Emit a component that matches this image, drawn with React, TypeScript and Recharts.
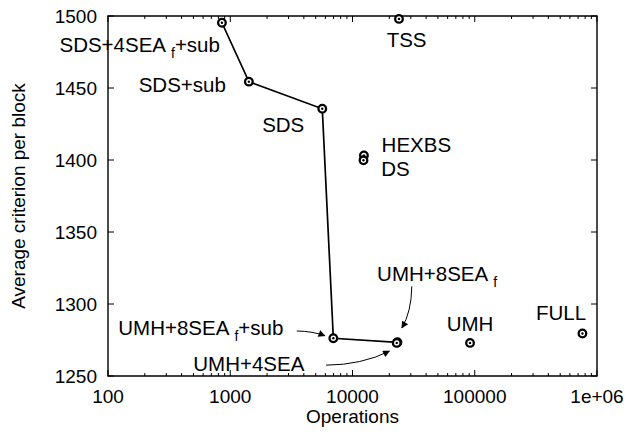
import { ScatterChart, Scatter, XAxis, YAxis, ReferenceArea } from 'recharts';

// operations vs average criterion
const lineNames = ['SDS+4SEA_f+sub', 'SDS+sub', 'SDS', 'UMH+8SEA_f+sub', 'UMH+8SEA_f'];
const lineOps = [855, 1420, 5660, 6970, 23300];
const lineCrit = [1495.3, 1454.4, 1435.6, 1276.2, 1273.4];

const otherNames = ['TSS', 'HEXBS', 'DS', 'UMH+4SEA', 'UMH', 'FULL'];
const otherOps = [24000, 12400, 12300, 23000, 91500, 760000];
const otherCrit = [1498, 1403.2, 1399.8, 1273, 1273, 1279.5];

const xMajor = [100, 1000, 10000, 100000, 1000000];
const xTicks = [100, 200, 300, 400, 500, 600, 700, 800, 900,
  1000, 2000, 3000, 4000, 5000, 6000, 7000, 8000, 9000,
  10000, 20000, 30000, 40000, 50000, 60000, 70000, 80000, 90000,
  100000, 200000, 300000, 400000, 500000, 600000, 700000, 800000, 900000, 1000000];
const yTicks = [1250, 1300, 1350, 1400, 1450, 1500];

const PLOT_W = 489;
const PLOT_H = 360;
const FONT = '"Liberation Sans", Arial, Helvetica, sans-serif';

const lineData = lineNames.map((name, i) => ({ name, ops: lineOps[i], crit: lineCrit[i] }));
const otherData = otherNames.map((name, i) => ({ name, ops: otherOps[i], crit: otherCrit[i] }));

// label offsets (px from the point) and optional curved arrow [sx, sy, cx, cy, ex, ey]
type Place = { dx: number; dy: number; anchor: 'start' | 'middle' | 'end'; arrow?: number[] };
const placement: Record<string, Place> = {
  'SDS+4SEA_f+sub': { dx: -2, dy: 29, anchor: 'end' },
  'SDS+sub': { dx: -23, dy: 10.6, anchor: 'end' },
  SDS: { dx: -18, dy: 23.6, anchor: 'end' },
  'UMH+8SEA_f+sub': { dx: -50, dy: -3.3, anchor: 'end', arrow: [-36.6, -7.3, -20, -7, -8.5, -2.5] },
  'UMH+8SEA_f': { dx: -20.3, dy: -61.7, anchor: 'start', arrow: [14.4, -56, 14, -30, 4.4, -14.4] },
  TSS: { dx: -12.3, dy: 27.7, anchor: 'start' },
  HEXBS: { dx: 17.7, dy: -3.6, anchor: 'start' },
  DS: { dx: 17.7, dy: 15.7, anchor: 'start' },
  'UMH+4SEA': { dx: -92.3, dy: 28, anchor: 'end', arrow: [-70.6, 22.3, -35, 22, -7.3, 8.3] },
  UMH: { dx: -23.3, dy: -12, anchor: 'start' },
  FULL: { dx: 3.7, dy: -13.7, anchor: 'end' },
};

const fmtX = (v: number) => (v === 1000000 ? '1e+06' : String(v));

const XTick = (props: any) => {
  const { x, y, payload } = props;
  const v = payload.value;
  const major = xMajor.includes(v);
  const len = major ? 6 : 3;
  return (
    <g>
      <line x1={x} y1={y} x2={x} y2={y - len} stroke="#000" strokeWidth={1} />
      <line x1={x} y1={y - PLOT_H} x2={x} y2={y - PLOT_H + len} stroke="#000" strokeWidth={1} />
      {major && (
        <text x={x} y={y + 27} textAnchor="middle" fontSize={19} fontFamily={FONT} fill="#000">
          {fmtX(v)}
        </text>
      )}
    </g>
  );
};

const YTick = (props: any) => {
  const { x, y, payload } = props;
  return (
    <g>
      <line x1={x} y1={y} x2={x + 6} y2={y} stroke="#000" strokeWidth={1} />
      <line x1={x + PLOT_W - 6} y1={y} x2={x + PLOT_W} y2={y} stroke="#000" strokeWidth={1} />
      <text x={x - 11} y={y + 7} textAnchor="end" fontSize={19} fontFamily={FONT} fill="#000">
        {payload.value}
      </text>
    </g>
  );
};

const LabelText = ({ name, x, y, anchor }: { name: string; x: number; y: number; anchor: string }) => {
  const parts = name.split('_f');
  return (
    <text x={x} y={y} textAnchor={anchor as any} fontSize={20.5} fontFamily={FONT} fill="#000">
      {parts[0]}
      {parts.length > 1 && (
        <>
          <tspan dx={5} dy={6} fontSize={14} fill="#000">f</tspan>
          {parts[1] ? <tspan dy={-6} fill="#000">{parts[1]}</tspan> : null}
        </>
      )}
    </text>
  );
};

const Point = (props: any) => {
  const { cx, cy, payload } = props;
  if (cx == null || cy == null) return <g />;
  const p = placement[payload.name];
  const a = p?.arrow;
  return (
    <g>
      {a && (
        <path
          d={`M${cx + a[0]},${cy + a[1]} Q${cx + a[2]},${cy + a[3]} ${cx + a[4]},${cy + a[5]}`}
          fill="none"
          stroke="#000"
          strokeWidth={1}
          markerEnd="url(#arrowHead)"
        />
      )}
      <circle cx={cx} cy={cy} r={3.8} fill="#fff" stroke="#000" strokeWidth={2.3} />
      <circle cx={cx} cy={cy} r={1.2} fill="#000" />
      {p && <LabelText name={payload.name} x={cx + p.dx} y={cy + p.dy} anchor={p.anchor} />}
    </g>
  );
};

const XTitle = (props: any) => {
  const { viewBox } = props;
  return (
    <text x={viewBox.x + viewBox.width / 2} y={viewBox.y + 47} textAnchor="middle" fontSize={19} fontFamily={FONT} fill="#000">
      Operations
    </text>
  );
};

const YTitle = (props: any) => {
  const { viewBox } = props;
  const cy = viewBox.y + viewBox.height / 2;
  return (
    <text x={25} y={cy} transform={`rotate(-90 25 ${cy})`} textAnchor="middle" fontSize={19} fontFamily={FONT} fill="#000">
      Average criterion per block
    </text>
  );
};

export default function App() {
  return (
    <div style={{ position: 'absolute', left: 0, top: 0, background: '#fff' }}>
      <svg width={0} height={0} style={{ position: 'absolute' }}>
        <defs>
          <marker id="arrowHead" viewBox="0 0 10 10" refX="9" refY="5" markerWidth="9" markerHeight="7" markerUnits="userSpaceOnUse" orient="auto">
            <path d="M0,0 L10,5 L0,10 z" fill="#000" />
          </marker>
        </defs>
      </svg>
      <ScatterChart width={629} height={434} margin={{ top: 16, right: 32, bottom: 8, left: 8 }}>
        <XAxis
          dataKey="ops"
          type="number"
          scale="log"
          domain={[100, 1000000]}
          ticks={xTicks}
          interval={0}
          tickSize={0}
          tickMargin={0}
          tick={<XTick />}
          axisLine={false}
          tickLine={false}
          height={50}
          label={<XTitle />}
        />
        <YAxis
          dataKey="crit"
          type="number"
          domain={[1250, 1500]}
          ticks={yTicks}
          interval={0}
          tickSize={0}
          tickMargin={0}
          tick={<YTick />}
          axisLine={false}
          tickLine={false}
          width={100}
          label={<YTitle />}
        />
        <ReferenceArea x1={100} x2={1000000} y1={1250} y2={1500} fill="none" stroke="#000" strokeWidth={1.4} />
        <Scatter
          data={lineData}
          line={{ stroke: '#000', strokeWidth: 1.7 }}
          shape={<Point />}
          isAnimationActive={false}
        />
        <Scatter data={otherData} shape={<Point />} isAnimationActive={false} />
      </ScatterChart>
    </div>
  );
}
